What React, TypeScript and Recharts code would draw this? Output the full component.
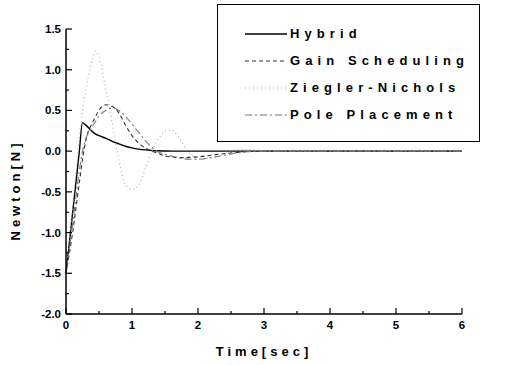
import { LineChart, Line, XAxis, YAxis } from "recharts";

const times = [0, 0.1, 0.2, 0.25, 0.3, 0.4, 0.45, 0.5, 0.6, 0.7, 0.8, 0.9, 1.0, 1.1, 1.2, 1.3, 1.4, 1.5, 1.6, 1.7, 1.8, 1.9, 2.0, 2.2, 2.4, 2.6, 2.8, 3.0, 3.5, 4, 5, 6];
const hybrid = [-1.5, -0.76, -0.02, 0.35, 0.32, 0.24, 0.21, 0.19, 0.16, 0.12, 0.09, 0.06, 0.04, 0.025, 0.015, 0.008, 0.004, 0.002, 0, 0, 0, 0, 0, 0, 0, 0, 0, 0, 0, 0, 0, 0];
const gainScheduling = [-1.5, -1.0, -0.4, -0.1, 0.13, 0.35, 0.43, 0.5, 0.57, 0.55, 0.47, 0.32, 0.19, 0.1, 0.04, 0.0, -0.03, -0.06, -0.07, -0.08, -0.08, -0.075, -0.07, -0.05, -0.03, -0.015, -0.005, 0, 0, 0, 0, 0];
const zieglerNichols = [-1.5, -0.7, 0.15, 0.5, 0.75, 1.12, 1.23, 1.15, 0.77, 0.35, -0.1, -0.42, -0.47, -0.42, -0.22, 0.0, 0.15, 0.25, 0.26, 0.18, 0.05, -0.05, -0.1, -0.08, -0.02, 0.02, 0.02, 0, 0, 0, 0, 0];
const polePlacement = [-1.5, -0.9, -0.25, 0.0, 0.15, 0.3, 0.37, 0.43, 0.5, 0.53, 0.5, 0.43, 0.33, 0.23, 0.13, 0.05, -0.01, -0.04, -0.06, -0.08, -0.095, -0.1, -0.1, -0.08, -0.05, -0.02, -0.005, 0, 0, 0, 0, 0];

const xTicks = [0, 0.5, 1, 1.5, 2, 2.5, 3, 3.5, 4, 4.5, 5, 5.5, 6];
const yTicks = [-2, -1.75, -1.5, -1.25, -1, -0.75, -0.5, -0.25, 0, 0.25, 0.5, 0.75, 1, 1.25, 1.5];

const series = [
  { key: "hybrid", name: "Hybrid", color: "#000", dash: undefined, width: 1.4 },
  { key: "gain", name: "Gain Scheduling", color: "#333", dash: "4 3", width: 1.1 },
  { key: "zn", name: "Ziegler-Nichols", color: "#aaa", dash: "1 3", width: 1.1 },
  { key: "pole", name: "Pole Placement", color: "#777", dash: "7 3 2 3", width: 1.1 },
];

const data = times.map((t, i) => ({
  t,
  hybrid: hybrid[i],
  gain: gainScheduling[i],
  zn: zieglerNichols[i],
  pole: polePlacement[i],
}));

const font = "'Liberation Sans', Arial, sans-serif";

const XTick = (props: any) => {
  const { x, y, payload } = props;
  const major = Number.isInteger(payload.value);
  return (
    <g>
      <line x1={x} x2={x} y1={y} y2={y - (major ? 6 : 3)} stroke="#000" strokeWidth={1.2} />
      {major && (
        <text x={x} y={y + 15} textAnchor="middle" fontSize={11.5} fontWeight="bold" fontFamily={font} fill="#000">
          {payload.value}
        </text>
      )}
    </g>
  );
};

const YTick = (props: any) => {
  const { x, y, payload } = props;
  const major = Math.abs(payload.value * 2 - Math.round(payload.value * 2)) < 1e-6;
  return (
    <g>
      <line x1={x} x2={x + (major ? 6 : 3)} y1={y} y2={y} stroke="#000" strokeWidth={1.2} />
      {major && (
        <text x={x - 5} y={y + 4} textAnchor="end" fontSize={11.5} fontWeight="bold" fontFamily={font} fill="#000">
          {payload.value.toFixed(1)}
        </text>
      )}
    </g>
  );
};

// legend drawn as a plain box over the chart, like the original figure
const LegendBox = () => (
  <div
    style={{
      position: "absolute",
      left: 217,
      top: 4,
      width: 261,
      height: 136,
      border: "1.5px solid #000",
      background: "#fff",
      fontFamily: font,
      fontWeight: "bold",
      fontSize: 13,
      letterSpacing: 5.1,
    }}
  >
    {series.map((s, i) => (
      <div key={s.key} style={{ position: "absolute", left: 27, top: 21 + i * 27, display: "flex", alignItems: "center" }}>
        <svg width={44} height={10}>
          <line x1={0} x2={42} y1={5} y2={5} stroke={s.color} strokeWidth={s.width} strokeDasharray={s.dash} />
        </svg>
        <span style={{ marginLeft: 1, lineHeight: "16px", whiteSpace: "nowrap" }}>{s.name}</span>
      </div>
    ))}
  </div>
);

export default function App() {
  return (
    <div style={{ position: "absolute", left: 0, top: 0, width: 513, height: 365, background: "#fff" }}>
      <LineChart width={513} height={365} data={data} margin={{ top: 29, right: 51, bottom: 21, left: 26 }}>
        <XAxis
          dataKey="t"
          type="number"
          domain={[0, 6]}
          ticks={xTicks}
          interval={0}
          tick={<XTick />}
          tickLine={false}
          tickSize={0}
          tickMargin={0}
          height={30}
          axisLine={{ stroke: "#000", strokeWidth: 1.5 }}
          label={({ viewBox }: any) => (
            <text
              x={viewBox.x + viewBox.width / 2}
              y={356}
              textAnchor="middle"
              fontSize={13}
              fontWeight="bold"
              letterSpacing={4}
              fontFamily={font}
              fill="#000"
            >
              Time[sec]
            </text>
          )}
        />
        <YAxis
          type="number"
          domain={[-2, 1.5]}
          ticks={yTicks}
          interval={0}
          tick={<YTick />}
          tickLine={false}
          tickSize={0}
          tickMargin={0}
          width={40}
          axisLine={{ stroke: "#000", strokeWidth: 1.5 }}
          label={() => (
            <text
              x={20}
              y={190}
              transform="rotate(-90 20 190)"
              textAnchor="middle"
              fontSize={13}
              fontWeight="bold"
              letterSpacing={4}
              fontFamily={font}
              fill="#000"
            >
              Newton[N]
            </text>
          )}
        />
        {series.map((s) => (
          <Line
            key={s.key}
            dataKey={s.key}
            name={s.name}
            type="monotone"
            stroke={s.color}
            strokeWidth={s.width}
            strokeDasharray={s.dash}
            dot={false}
            isAnimationActive={false}
          />
        ))}
      </LineChart>
      <LegendBox />
    </div>
  );
}
